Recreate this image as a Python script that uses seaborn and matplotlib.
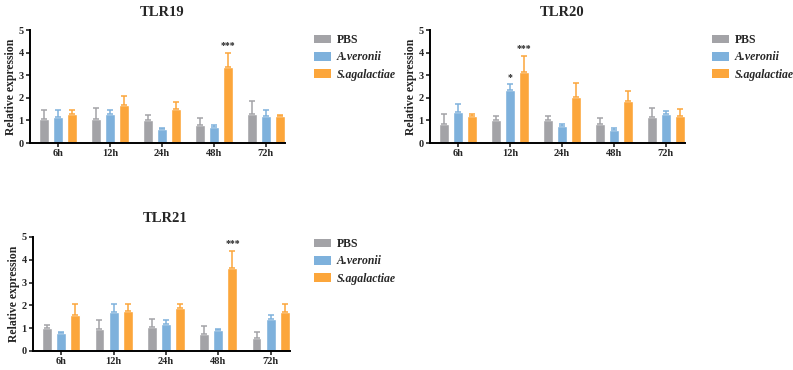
import numpy as np
import pandas as pd
import matplotlib
matplotlib.use("Agg")
import matplotlib.pyplot as plt
import seaborn as sns
from matplotlib.patches import Patch

sns.set_style("ticks")
plt.rcParams['font.family'] = ['Liberation Serif', 'DejaVu Serif']
plt.rcParams['font.weight'] = 'bold'

times = ["6h", "12h", "24h", "48h", "72h"]
groups = ["PBS", "A.veronii", "S.agalactiae"]
colors = ["#a3a3a7", "#7eb1dc", "#fca63b"]

# TLR19
tlr19_pbs = [1.05, 1.05, 1.00, 0.80, 1.30]
tlr19_pbs_err = [0.40, 0.50, 0.22, 0.30, 0.58]
tlr19_av = [1.15, 1.27, 0.60, 0.72, 1.18]
tlr19_av_err = [0.30, 0.18, 0.08, 0.08, 0.27]
tlr19_sa = [1.28, 1.70, 1.50, 3.38, 1.18]
tlr19_sa_err = [0.17, 0.38, 0.32, 0.60, 0.05]
tlr19_sig = {(3, 2): "***"}

# TLR20
tlr20_pbs = [0.82, 1.00, 1.02, 0.82, 1.13]
tlr20_pbs_err = [0.46, 0.20, 0.18, 0.30, 0.44]
tlr20_av = [1.35, 2.35, 0.77, 0.57, 1.30]
tlr20_av_err = [0.37, 0.25, 0.08, 0.08, 0.10]
tlr20_sa = [1.18, 3.15, 2.05, 1.87, 1.20]
tlr20_sa_err = [0.10, 0.70, 0.60, 0.43, 0.30]
tlr20_sig = {(1, 1): "*", (1, 2): "***"}

# TLR21
tlr21_pbs = [1.03, 0.95, 1.05, 0.75, 0.55]
tlr21_pbs_err = [0.12, 0.42, 0.35, 0.33, 0.27]
tlr21_av = [0.78, 1.70, 1.18, 0.93, 1.40]
tlr21_av_err = [0.07, 0.35, 0.19, 0.05, 0.20]
tlr21_sa = [1.57, 1.75, 1.88, 3.63, 1.70]
tlr21_sa_err = [0.48, 0.30, 0.17, 0.77, 0.35]
tlr21_sig = {(3, 2): "***"}

panels = [
    ("TLR19", [tlr19_pbs, tlr19_av, tlr19_sa], [tlr19_pbs_err, tlr19_av_err, tlr19_sa_err], tlr19_sig),
    ("TLR20", [tlr20_pbs, tlr20_av, tlr20_sa], [tlr20_pbs_err, tlr20_av_err, tlr20_sa_err], tlr20_sig),
    ("TLR21", [tlr21_pbs, tlr21_av, tlr21_sa], [tlr21_pbs_err, tlr21_av_err, tlr21_sa_err], tlr21_sig),
]

W, H = 793, 370
fig = plt.figure(figsize=(W / 100, H / 100), dpi=100)

# pixel boxes: left, right, y_top(5), y_bottom(0)
boxes = [(30, 285, 30, 143), (430, 685, 30, 143), (33, 290, 237, 351)]
legend_pos = [(314, 34), (712, 34), (314, 238)]
title_pos = [(162, 12), (562, 12), (165, 218)]

for (title, vals, errs, sig), (l, r, t, b), (lx, ly), (tx, ty) in zip(panels, boxes, legend_pos, title_pos):
    ax = fig.add_axes([l / W, 1 - b / H, (r - l) / W, (b - t) / H])
    rows = []
    for g, v in zip(groups, vals):
        for tm, val in zip(times, v):
            rows.append({"time": tm, "group": g, "value": val})
    df = pd.DataFrame(rows)
    sns.barplot(data=df, x="time", y="value", hue="group", order=times,
                hue_order=groups, palette=colors, width=0.81, gap=0.3,
                saturation=1, errorbar=None, ax=ax, legend=False)
    offsets = [-0.27, 0.0, 0.27]
    for gi in range(3):
        x = np.arange(5) + offsets[gi]
        e = np.array(errs[gi])
        ax.errorbar(x, vals[gi], yerr=[np.zeros(5), e], fmt="none",
                    ecolor=colors[gi], elinewidth=1.1, capsize=2.5, capthick=1.1)
    for (ti, gi), s in sig.items():
        ax.text(ti + offsets[gi], vals[gi][ti] + errs[gi][ti] + 0.12, s,
                ha="center", va="bottom", fontsize=7, fontweight="bold")
    ax.set_ylim(0, 5)
    ax.set_xlim(-0.54, 4.37)
    ax.set_yticks([0, 1, 2, 3, 4, 5])
    ax.set_xlabel("")
    ax.set_ylabel("Relative expression", fontsize=8.5, fontweight="bold", labelpad=1)
    fig.text(tx / W, 1 - ty / H, title, fontsize=10.5, fontweight="bold",
             ha="center", va="center")
    for s in ["top", "right"]:
        ax.spines[s].set_visible(False)
    for s in ["left", "bottom"]:
        ax.spines[s].set_linewidth(1.4)
        ax.spines[s].set_color("black")
    ax.tick_params(axis="both", width=1.2, length=3, labelsize=7.5, pad=1.5)
    for lab in ax.get_xticklabels() + ax.get_yticklabels():
        lab.set_fontweight("bold")
    handles = [Patch(facecolor=c, edgecolor="none") for c in colors]
    leg = fig.legend(handles, ["PBS", "A.veronii", "S.agalactiae"],
                     loc="upper left", bbox_to_anchor=(lx / W, 1 - ly / H),
                     frameon=False, fontsize=8.5, handlelength=1.4, handleheight=0.75,
                     labelspacing=0.45, handletextpad=0.55, borderpad=0,
                     borderaxespad=0)
    for i, txt in enumerate(leg.get_texts()):
        txt.set_fontweight("bold")
        if i > 0:
            txt.set_fontstyle("italic")

fig.savefig("out.png", dpi=100)
